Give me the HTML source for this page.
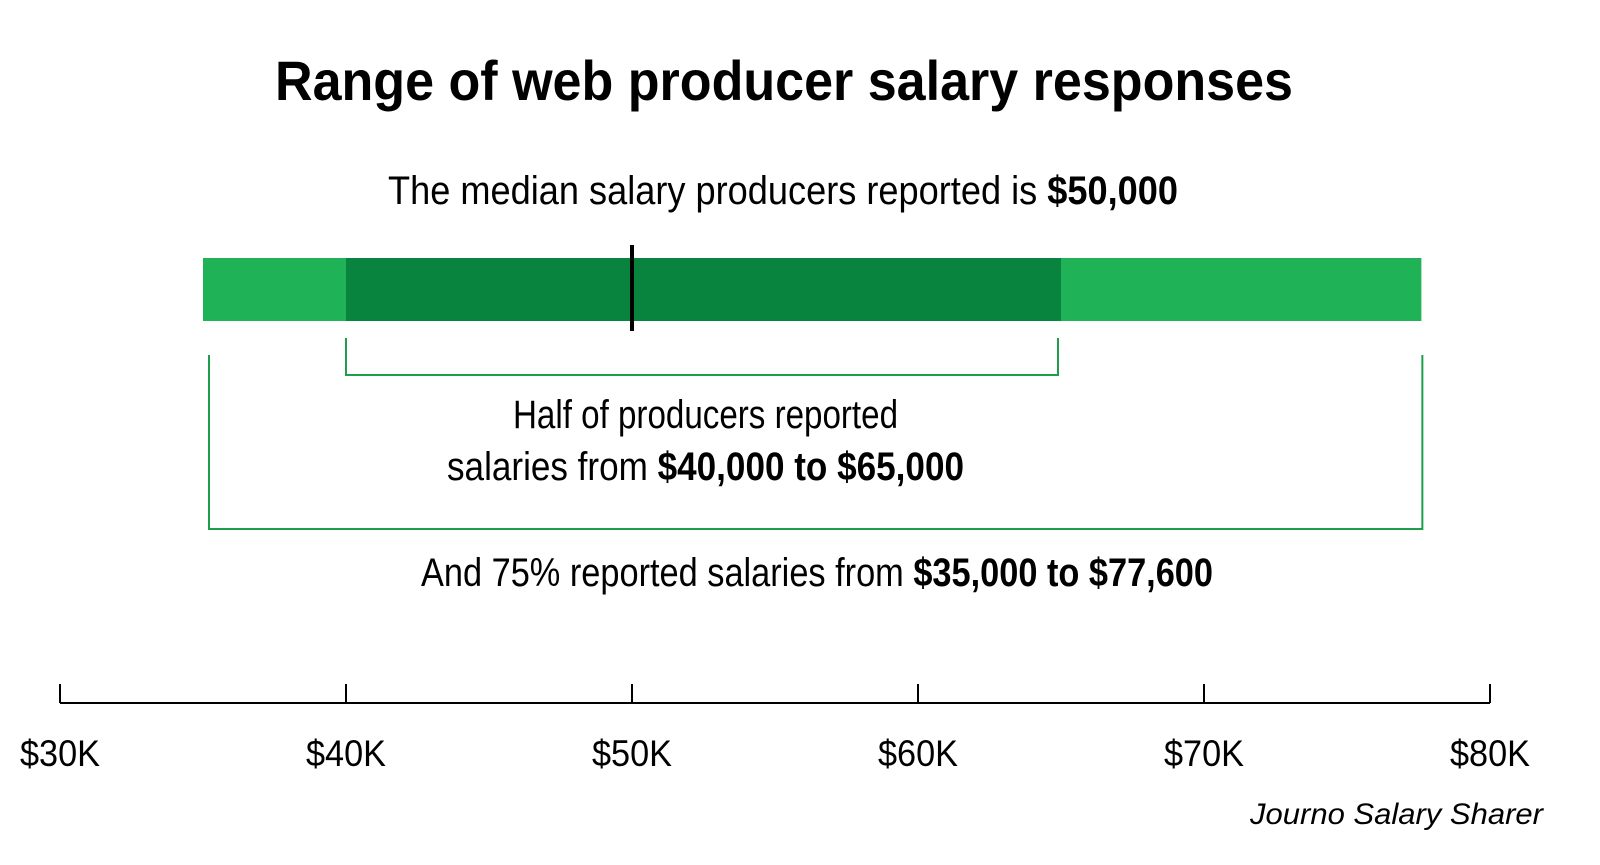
<!DOCTYPE html>
<html><head><meta charset="utf-8"><style>
body{margin:0;background:#fff;}
svg{display:block;font-family:"Liberation Sans",sans-serif;}
</style></head><body>
<svg id="chart" width="1600" height="865" viewBox="0 0 1600 865">
<text x="275" y="100" font-size="56" font-weight="bold" textLength="1018" lengthAdjust="spacingAndGlyphs" fill="#000">Range of web producer salary responses</text>
<text x="388" y="204" font-size="40" textLength="790" lengthAdjust="spacingAndGlyphs" fill="#000">The median salary producers reported is <tspan font-weight="bold">$50,000</tspan></text>
<g id="marks"></g>
<text x="513" y="428" font-size="40" textLength="385" lengthAdjust="spacingAndGlyphs">Half of producers reported</text>
<text x="447" y="480" font-size="40" textLength="517" lengthAdjust="spacingAndGlyphs">salaries from <tspan font-weight="bold">$40,000 to $65,000</tspan></text>
<text x="421" y="586" font-size="40" textLength="792" lengthAdjust="spacingAndGlyphs">And 75% reported salaries from <tspan font-weight="bold">$35,000 to $77,600</tspan></text>
<g id="axis"></g>
<text x="1250" y="824" font-size="30" font-style="italic" textLength="293" lengthAdjust="spacingAndGlyphs">Journo Salary Sharer</text>
</svg>
<script>
const outerRange = [35, 77.6];
const innerRange = [40, 65];
const median = [50];
const ticks = [30, 40, 50, 60, 70, 80];
const tickLabels = ["$30K","$40K","$50K","$60K","$70K","$80K"];
const NS="http://www.w3.org/2000/svg";
function x(v){return 60+(v-30)*(1430/50);}
function mk(parent,tag,attrs){const e=document.createElementNS(NS,tag);for(const k in attrs)e.setAttribute(k,attrs[k]);parent.appendChild(e);return e;}
const m=document.getElementById('marks');
let r=mk(m,'rect',{x:x(outerRange[0]),y:258,width:x(outerRange[1])-x(outerRange[0]),height:63,fill:'#1fb257'});


r=mk(m,'rect',{x:x(innerRange[0]),y:258,width:x(innerRange[1])-x(innerRange[0]),height:63,fill:'#08843f'});


r=mk(m,'line',{x1:x(median[0]),x2:x(median[0]),y1:245,y2:331,stroke:'#000','stroke-width':4});


const g='#1e9e4c';
r=mk(m,'polyline',{points:`${x(innerRange[0])},338 ${x(innerRange[0])},375 ${x(innerRange[1])-3},375 ${x(innerRange[1])-3},338`,fill:'none',stroke:g,'stroke-width':2});


r=mk(m,'polyline',{points:`${x(outerRange[0])+6},355 ${x(outerRange[0])+6},529 ${x(outerRange[1])+1},529 ${x(outerRange[1])+1},355`,fill:'none',stroke:g,'stroke-width':2});


const a=document.getElementById('axis');
r=mk(a,'line',{x1:x(ticks[0]),x2:x(ticks[ticks.length-1]),y1:703,y2:703,stroke:'#000','stroke-width':2});


ticks.forEach((t,i)=>{
 const l=mk(a,'line',{x1:x(t),x2:x(t),y1:684,y2:703,stroke:'#000','stroke-width':2});
 
 
 const tx=mk(a,'text',{x:x(t),y:766,'font-size':37,'text-anchor':'middle',textLength:80,lengthAdjust:'spacingAndGlyphs'});
 tx.textContent=tickLabels[i];
 
 
});
</script>
</body></html>
